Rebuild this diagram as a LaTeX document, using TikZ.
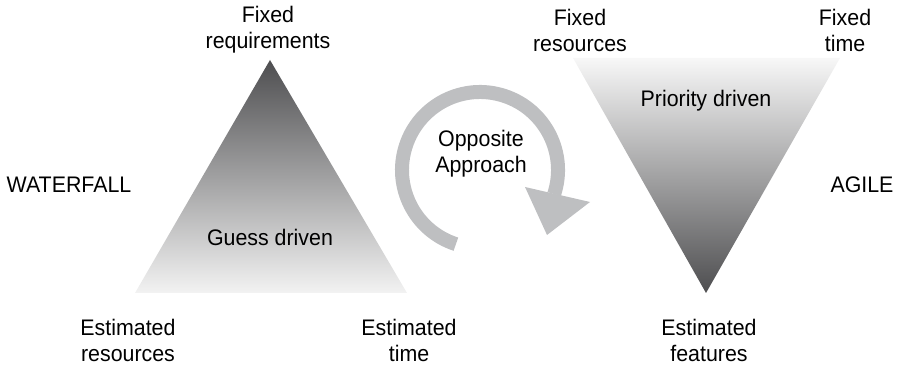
\documentclass[tikz,border=0pt]{standalone}
\usepackage{fontspec}
\setmainfont[FakeStretch=0.95]{Liberation Sans}
\usetikzlibrary{positioning}
\definecolor{ringgray}{RGB}{190,191,193}
\definecolor{tipdark}{RGB}{78,78,80}
\tikzset{
    %Define style for the labels
    lbl/.style={
           align=center,
           font=\fontsize{16}{18.5}\selectfont,
           inner sep=0pt},
    % Define style for the round arrow
    ring/.style={
           draw=ringgray,
           line width=0.35cm}
}

\begin{document}
\begin{tikzpicture}[x=0.025cm, y=0.025cm]
 \useasboundingbox (0,0) rectangle (912,366);
 %corners
 \coordinate (wtop) at (270,306);
 \coordinate (wleft) at (135,73);
 \coordinate (wright) at (407,73);
 \coordinate (aleft) at (573,308);
 \coordinate (aright) at (840,308);
 \coordinate (abot) at (706,73);
 % the two triangles
 \shade[top color=tipdark, bottom color=white!95!black] (wtop) -- (wright) -- (wleft) -- cycle;
 \shade[top color=white!97!black, bottom color=tipdark] (aleft) -- (aright) -- (abot) -- cycle;
 % round arrow between them
 \coordinate (hub) at (480,196);
 \draw[ring] (hub) ++(252:78) arc[start angle=252, end angle=-18, radius=78];
 \fill[ringgray] (525,179) -- (590,164) -- (547,131) -- cycle;
 %nodes
 \node[lbl] (fixreq) at (268,336) {Fixed\\requirements};
 \node[lbl] (fixres) at (580,336) {Fixed\\resources};
 \node[lbl] (fixtime) at (845,336) {Fixed\\time};
 \node[lbl] (waterfall) at (69,181) {WATERFALL};
 \node[lbl] (agile) at (862,181) {AGILE};
 \node[lbl] (guess) at (270,129) {Guess driven};
 \node[lbl] (priority) at (706,265) {Priority driven};
 \node[lbl] (opposite) at (481,212) {Opposite\\Approach};
 \node[lbl] (estres) at (128,26) {Estimated\\resources};
 \node[lbl] (esttime) at (409,26) {Estimated\\time};
 \node[lbl] (estfeat) at (709,26) {Estimated\\features};
\end{tikzpicture}
\end{document}
